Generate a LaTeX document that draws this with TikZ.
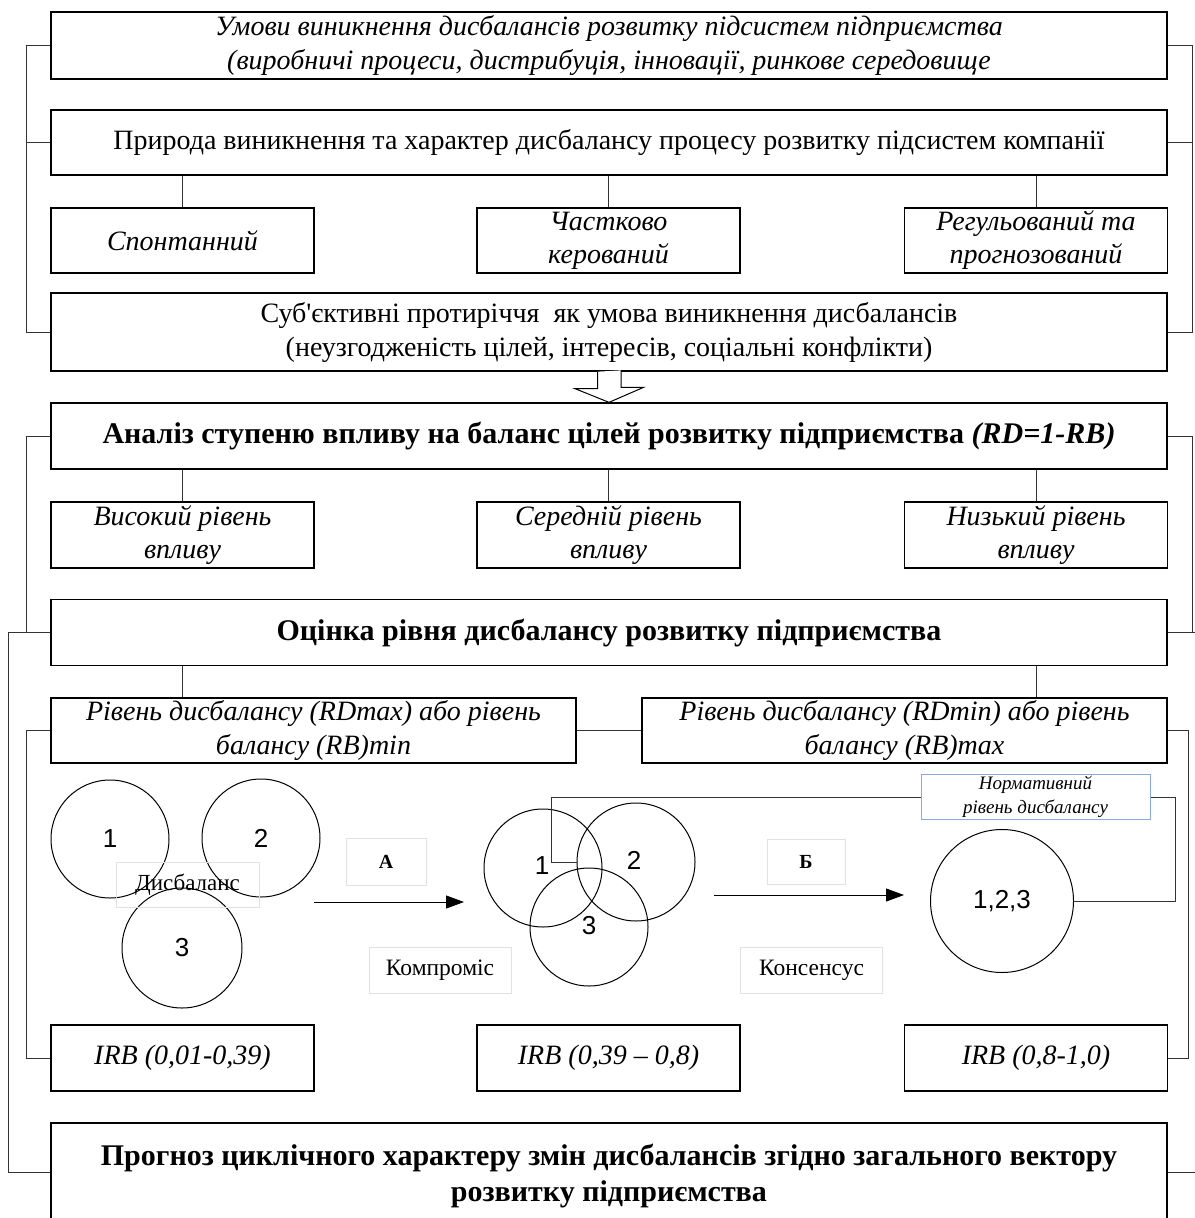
\documentclass[tikz,border=0pt]{standalone}
\usepackage{fontspec}
\setmainfont{Liberation Serif}[Ligatures=TeXOff]
\newfontfamily\arialf{Liberation Sans}
\usepackage{tikz}
\usetikzlibrary{arrows.meta}
\definecolor{lblgray}{RGB}{225,225,225}
\definecolor{normblue}{RGB}{140,170,215}
\tikzstyle{bx}=[rectangle,draw=black,line width=1.3pt,align=center,inner sep=0pt,font=\fontsize{28}{34}\selectfont]
\tikzstyle{widebox}=[bx,minimum width=1116pt]
\tikzstyle{smallbox}=[bx,minimum width=263pt,minimum height=65pt,font=\fontsize{28}{33}\selectfont\itshape]
\tikzstyle{lblbox}=[rectangle,draw=lblgray,line width=0.8pt,inner sep=0pt,minimum width=142pt,minimum height=46pt,font=\fontsize{23.5}{26}\selectfont]
\tikzstyle{crcnode}=[circle,draw=black,line width=1pt,minimum size=118pt,inner sep=0pt,font=\arialf\fontsize{26}{26}\selectfont]
\tikzstyle{conn}=[draw=black!80,line width=0.8pt]
\tikzstyle{arr}=[-{Triangle[length=18pt,width=13pt]},line width=0.9pt]

\begin{document}
\begin{tikzpicture}[x=1pt,y=-1pt]
\useasboundingbox (0,0) rectangle (1194,1218);
\node[widebox,minimum height=67pt,font=\fontsize{28}{34}\selectfont\itshape] (umovy) at (609,45.5) {Умови виникнення дисбалансів розвитку підсистем підприємства\\(виробничі процеси, дистрибуція, інновації, ринкове середовище};
\node[widebox,minimum height=65pt] (pryroda) at (609,142.5) {Природа виникнення та характер дисбалансу процесу розвитку підсистем компанії};
\node[smallbox] (spont) at (182.5,240.5) {Спонтанний};
\node[smallbox] (chast) at (608.5,240.5) {Частково\\керований};
\node[smallbox] (regul) at (1036,240.5) {Регульований та\\прогнозований};
\node[widebox,minimum height=78pt] (subj) at (609,332) {Суб'єктивні протиріччя\ \ як умова виникнення дисбалансів\\(неузгодженість цілей, інтересів, соціальні конфлікти)};
\node[widebox,minimum height=66pt,font=\fontsize{30}{34}\selectfont\bfseries] (analiz) at (609,436) {Аналіз ступеню впливу на баланс цілей розвитку підприємства \textit{(RD=1-RB)}};
\node[smallbox,minimum height=66pt] (vys) at (182.5,535) {Високий рівень\\впливу};
\node[smallbox,minimum height=66pt] (ser) at (608.5,535) {Середній рівень\\впливу};
\node[smallbox,minimum height=66pt] (nyz) at (1036,535) {Низький рівень\\впливу};
\node[widebox,minimum height=66pt,font=\fontsize{30}{34}\selectfont\bfseries] (ocinka) at (609,632.5) {Оцінка рівня дисбалансу розвитку підприємства};
\node[bx,minimum width=525pt,minimum height=65pt,font=\fontsize{28}{34}\selectfont\itshape] (rdmax) at (313.5,730.5) {Рівень дисбалансу (RDmax) або рівень\\балансу (RB)min};
\node[bx,minimum width=525pt,minimum height=65pt,font=\fontsize{28}{34}\selectfont\itshape] (rdmin) at (904.5,730.5) {Рівень дисбалансу (RDmin) або рівень\\балансу (RB)max};
\node[smallbox,minimum height=66pt] (irb1) at (182.5,1058) {IRB (0,01-0,39)};
\node[smallbox,minimum height=66pt] (irb2) at (608.5,1058) {IRB (0,39 – 0,8)};
\node[smallbox,minimum height=66pt] (irb3) at (1036,1058) {IRB (0,8-1,0)};
\node[widebox,minimum height=106pt,font=\fontsize{30}{36}\selectfont\bfseries] (prognoz) at (609,1176) {Прогноз циклічного характеру змін дисбалансів згідно загального вектору\\розвитку підприємства};

\node[crcnode] (c1) at (110,839) {1};
\node[crcnode] (c2) at (261,838) {2};
\node[crcnode,minimum size=120pt] (c3) at (182,948) {3};
\node[lblbox,minimum width=143pt,minimum height=45pt,font=\fontsize{23}{26}\selectfont] (disb) at (187.5,884.5) {Дисбаланс};
\node[lblbox,minimum width=80pt,minimum height=47pt,font=\fontsize{20}{20}\selectfont\bfseries] (la) at (386,861.5) {А};
\node[lblbox] (komp) at (440,970) {Компроміс};
\node[crcnode] (m1) at (543,868) {};
\node[crcnode] (m2) at (636,862) {};
\node[crcnode] (m3) at (589,927) {};
\node[font=\arialf\fontsize{26}{26}\selectfont] at (542,866) {1};
\node[font=\arialf\fontsize{26}{26}\selectfont] at (634,860) {2};
\node[font=\arialf\fontsize{26}{26}\selectfont] at (589,926) {3};
\node[lblbox,minimum width=78pt,minimum height=45pt,font=\fontsize{20}{20}\selectfont\bfseries] (lb) at (806,861.5) {Б};
\node[lblbox] (kons) at (811.5,970) {Консенсус};
\node[crcnode,minimum size=143pt] (big) at (1002,901) {1,2,3};

\coordinate (nr) at (1175,797);
\coordinate (nl) at (551,797);
\draw[conn] (big.east) -| (nr) -- (nl) |- (m2.west);
\node[rectangle,draw=normblue,fill=white,line width=0.9pt,inner sep=0pt,minimum width=229pt,minimum height=45pt,align=center,font=\fontsize{19}{24}\selectfont\itshape] (norm) at (1035.5,796.5) {Нормативний\\рівень дисбалансу};

\coordinate (a1) at (314,902);
\coordinate (a2) at (464,902);
\draw[arr] (a1) -- (a2);
\coordinate (b1) at (714,895);
\coordinate (b2) at (904,895);
\draw[arr] (b1) -- (b2);

\draw[conn] (umovy.west) -- ++(-24,0) |- (subj.west);
\draw[conn] (pryroda.west) -- ++(-24,0);
\draw[conn] (umovy.east) -- ++(25,0) |- (subj.east);
\draw[conn] (pryroda.east) -- ++(25,0);
\foreach \n in {spont,chast,regul} \draw[conn] (\n.north) -- (\n.north |- pryroda.south);
\foreach \n in {vys,ser,nyz} \draw[conn] (\n.north) -- (\n.north |- analiz.south);
\draw[conn] (analiz.west) -- ++(-24,0) |- (ocinka.west);
\draw[conn] (analiz.east) -- ++(25,0) |- (ocinka.east);
\draw[conn] (ocinka.west) -- ++(-42,0) |- ([yshift=4pt]prognoz.west);
\draw[conn] (ocinka.east) -- ++(30,0) |- ([yshift=4pt]prognoz.east);
\draw[conn] (vys.south |- ocinka.south) -- (vys.south |- rdmax.north);
\draw[conn] (nyz.south |- ocinka.south) -- (nyz.south |- rdmin.north);
\draw[conn] (rdmax.east) -- (rdmin.west);
\draw[conn] (rdmax.west) -- ++(-24,0) |- (irb1.west);
\draw[conn] (rdmin.east) -- ++(21,0) |- (irb3.east);
\draw[line width=1pt,fill=white] ([xshift=-11.5pt]subj.south) -- ++(0,17) -- ++(-22.5,0) -- (analiz.north) -- ++(34.5,-15) -- ++(-22.5,0) -- ++(0,-17);
\end{tikzpicture}
\end{document}
